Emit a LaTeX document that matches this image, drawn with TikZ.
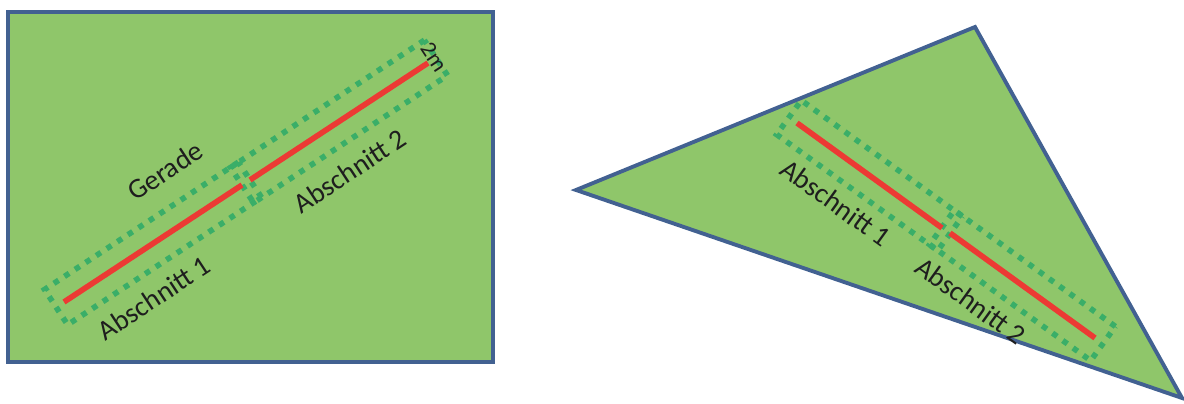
\documentclass[tikz,border=0pt]{standalone}
\usepackage{fontspec}
\setmainfont{Carlito}
\usetikzlibrary{calc}

\definecolor{fieldgreen}{RGB}{143,198,106}
\definecolor{borderblue}{RGB}{66,97,145}
\definecolor{lineRed}{RGB}{236,58,52}
\definecolor{dotgreen}{RGB}{58,174,104}
\definecolor{textgray}{RGB}{30,30,30}

\tikzset{
    field/.style={fill=fieldgreen, draw=borderblue, line width=2.2pt, line join=miter},
    gerade/.style={draw=lineRed, line width=3.2pt},
    abschnitt/.style={draw=dotgreen, line width=3.2pt, dash pattern=on 3.2pt off 4pt,
        inner sep=0pt, minimum height=24pt},
    beschriftung/.style={font=\fontsize{16}{19}\selectfont, text=textgray, inner sep=0pt}
}

\begin{document}
\begin{tikzpicture}[x=0.02cm, y=-0.02cm]
    \useasboundingbox (0,0) rectangle (1184,404);

    % Rectangle field
    \draw[field] (8,12) rectangle (493,362);

    % Straight line split in two parts
    \coordinate (l1a) at (64,302);
    \coordinate (l1b) at (242,185);
    \coordinate (l2a) at (250,180);
    \coordinate (l2b) at (428,63);
    \node[abschnitt, rotate=33.3, minimum width=132pt] (lbox1) at ($(l1a)!0.5!(l1b)$) {};
    \node[abschnitt, rotate=33.3, minimum width=132pt] (lbox2) at ($(l2a)!0.5!(l2b)$) {};
    \draw[gerade] (l1a) -- (l1b);
    \draw[gerade] (l2a) -- (l2b);

    % Labels
    \node[beschriftung, rotate=33.3] (lgerade) at (165,171) {Gerade};
    \node[beschriftung, rotate=33.3] (lab1) at (154,298) {Abschnitt 1};
    \node[beschriftung, rotate=33.3] (lab2) at (350,171) {Abschnitt 2};
    \node[beschriftung, rotate=-56.7, font=\fontsize{13}{15}\selectfont] (lmeter) at (434,57) {2m};

    % Triangle field
    \draw[field] (576,190) -- (975,27) -- (1182,398) -- cycle;

    % Line inside the triangle
    \coordinate (r1a) at (797,123);
    \coordinate (r1b) at (942,228);
    \coordinate (r2a) at (950,233);
    \coordinate (r2b) at (1095,338);
    \node[abschnitt, rotate=-35.8, minimum width=113pt] (rbox1) at ($(r1a)!0.5!(r1b)$) {};
    \node[abschnitt, rotate=-35.8, minimum width=113pt] (rbox2) at ($(r2a)!0.5!(r2b)$) {};
    \draw[gerade] (r1a) -- (r1b);
    \draw[gerade] (r2a) -- (r2b);

    % Labels
    \node[beschriftung, rotate=-35.8] (rab1) at (836,203) {Abschnitt 1};
    \node[beschriftung, rotate=-35.8] (rab2) at (971,301) {Abschnitt 2};

\end{tikzpicture}
\end{document}
